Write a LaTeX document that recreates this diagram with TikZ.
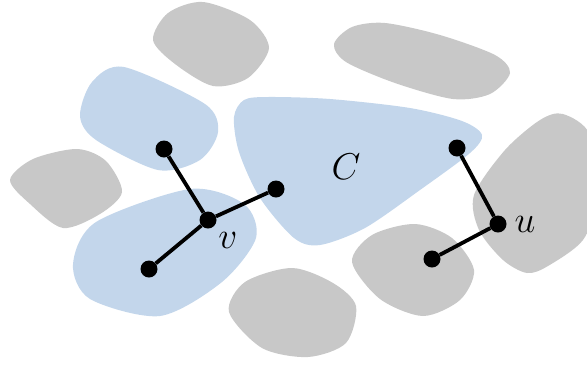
\documentclass[tikz,border=0pt]{standalone}
\usepackage{amsmath}
\definecolor{regionblue}{RGB}{195,214,235}
\definecolor{regiongray}{RGB}{200,200,200}
\newcommand{\biglbl}[1]{\scalebox{1.5}{$#1$}}
\tikzset{
  dot/.style={circle, fill=black, inner sep=0pt, minimum size=17pt},
  edge/.style={line width=3.8pt},
  lbl/.style={font=\Huge},
}
\begin{document}
\begin{tikzpicture}[x=1pt, y=-1pt]
    \useasboundingbox (0,0) rectangle (587,365);

    % Gray regions
    \fill[regiongray] plot[smooth cycle] coordinates {(153,40) (168,13) (203,2) (250,20) (269,48) (248,78) (213,86) (175,64)};
    \fill[regiongray] plot[smooth cycle] coordinates {(334,44) (352,27) (385,23) (440,35) (495,55) (510,73) (490,94) (453,99) (395,83) (346,62)};
    \fill[regiongray] plot[smooth cycle] coordinates {(10,180) (33,159) (77,149) (106,161) (122,192) (100,214) (63,228) (30,204)};
    \fill[regiongray] plot[smooth cycle] coordinates {(474,195) (505,150) (540,120) (563,114) (590,135) (596,200) (583,240) (548,266) (527,273) (503,260) (479,230)};
    \fill[regiongray] plot[smooth cycle] coordinates {(352,262) (372,235) (415,224) (452,238) (474,270) (460,300) (423,316) (380,299)};
    \fill[regiongray] plot[smooth cycle] coordinates {(229,312) (245,282) (292,268) (333,283) (356,306) (346,343) (308,357) (262,348)};

    % Blue regions
    \fill[regionblue] plot[smooth cycle] coordinates {(80,116) (92,82) (124,67) (205,104) (218,132) (200,160) (158,170) (96,140)};
    \fill[regionblue] plot[smooth cycle] coordinates {(73,264) (96,222) (190,189) (244,204) (256,238) (222,282) (160,316) (90,299)};
    \fill[regionblue] plot[smooth cycle] coordinates {(234,117) (244,100) (268,97) (330,99) (410,108) (462,121) (482,135) (470,153) (420,190) (365,228) (320,245) (294,238) (260,198) (239,152)};

    % Vertices
    \node[dot] (v) at (208,220) {};
    \node[dot] (v1) at (164,149) {};
    \node[dot] (v2) at (276,189) {};
    \node[dot] (v3) at (149,269) {};
    \node[dot] (u) at (498,224) {};
    \node[dot] (u1) at (457,148) {};
    \node[dot] (u2) at (432,259) {};

    % Edges
    \draw[edge] (v) -- (v1);
    \draw[edge] (v) -- (v2);
    \draw[edge] (v) -- (v3);
    \draw[edge] (u) -- (u1);
    \draw[edge] (u) -- (u2);

    % Labels
    \node[lbl] (clab) at (346,167) {\biglbl{C}};
    \node[lbl] (vlab) at (228,240) {\biglbl{v}};
    \node[lbl] (ulab) at (525,224) {\biglbl{u}};
\end{tikzpicture}
\end{document}
